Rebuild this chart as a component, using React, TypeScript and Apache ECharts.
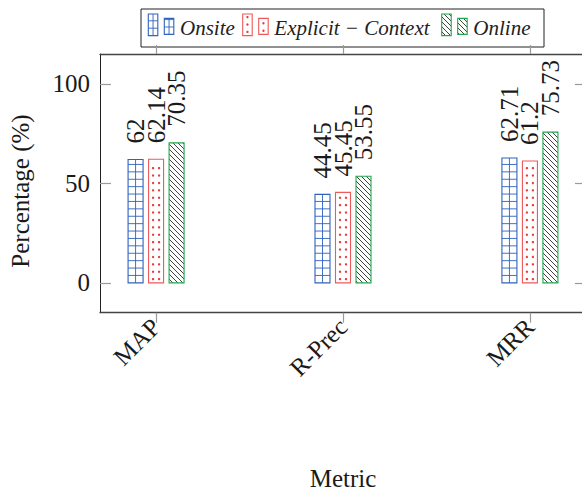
import React, { useEffect, useRef } from "react";
import * as echarts from "echarts";

// Metrics and the percentage each approach reaches on them
const categories = ["MAP", "R-Prec", "MRR"];
const onsite = [62, 44.45, 62.71];
const explicitContext = [62.14, 45.45, 61.2];
const online = [70.35, 53.55, 75.73];
const seriesNames = ["Onsite", "Explicit − Context", "Online"];
const seriesValues = [onsite, explicitContext, online];
const yTicks = [0, 50, 100];
const xTicks = [0, 1, 2];

const SERIF = "Liberation Serif, Times New Roman, serif";

const BLUE = "#2f62bd";
const RED = "#ec3b3b";
const RED_EDGE = "#ee5a5a";
const GREEN = "#1fa84c";

const BAR_W = 15;
const BAR_PITCH = 20.5;

// Fill pattern + outline for one bar-shaped box (top y0, bottom y1)
function patternShapes(kind: number, x0: number, y0: number, w: number, y1: number): any[] {
  const out: any[] = [];
  const x1 = x0 + w;
  if (kind === 0) {
    out.push({
      type: "line",
      shape: { x1: x0 + w / 2, y1: y0, x2: x0 + w / 2, y2: y1 },
      style: { stroke: BLUE, lineWidth: 0.9 },
    });
    for (let y = y1 - 7.4; y > y0 + 0.8; y -= 7.4) {
      out.push({
        type: "line",
        shape: { x1: x0, y1: y, x2: x1, y2: y },
        style: { stroke: BLUE, lineWidth: 0.9 },
      });
    }
  } else if (kind === 1) {
    const ncols = Math.max(1, Math.floor(w / 6));
    const cx = x0 + w / 2;
    for (let y = y1 - 3.7; y > y0 + 2; y -= 7.4) {
      for (let c = 0; c < ncols; c++) {
        const px = cx + (c - (ncols - 1) / 2) * 6;
        out.push({
          type: "circle",
          shape: { cx: px, cy: y, r: 1.2 },
          style: { fill: RED },
        });
      }
    }
  } else {
    const step = 5;
    const kStart = Math.ceil((y0 - x1) / step);
    const kEnd = Math.floor((y1 - x0) / step);
    for (let k = kStart; k <= kEnd; k++) {
      const c = k * step;
      const xa = Math.max(x0, y0 - c);
      const xb = Math.min(x1, y1 - c);
      if (xb - xa > 0.3) {
        out.push({
          type: "line",
          shape: { x1: xa, y1: xa + c, x2: xb, y2: xb + c },
          style: { stroke: "#111", lineWidth: 0.8 },
        });
      }
    }
  }
  const edge = kind === 0 ? BLUE : kind === 1 ? RED_EDGE : GREEN;
  out.push({
    type: "rect",
    shape: { x: x0, y: y0, width: w, height: y1 - y0 },
    style: { fill: "none", stroke: edge, lineWidth: 1.1 },
  });
  return out;
}

function makeSeries(values: number[], idx: number): any {
  return {
    type: "custom",
    name: seriesNames[idx],
    xAxisIndex: 0,
    yAxisIndex: 0,
    data: values.map((v, i) => [i, v]),
    renderItem: (params: any, api: any) => {
      const xi = api.value(0);
      const v = api.value(1);
      const topPt = api.coord([xi, v]);
      const basePt = api.coord([xi, 0]);
      const cx = topPt[0] + (idx - 1) * BAR_PITCH;
      const x0 = cx - BAR_W / 2;
      return { type: "group", children: patternShapes(idx, x0, topPt[1], BAR_W, basePt[1]) };
    },
  };
}

function legendGraphic(): any[] {
  const els: any[] = [
    {
      type: "rect",
      shape: { x: 141, y: 9, width: 403, height: 38 },
      style: { fill: "#fff", stroke: "#222", lineWidth: 1 },
    },
  ];
  const iconX = [148.3, 242.7, 441.7];
  const textX = [180, 274.3, 473.3];
  for (let i = 0; i < 3; i++) {
    patternShapes(i, iconX[i], 14, 9.5, 35.6).forEach((e) => els.push(e));
    patternShapes(i, iconX[i] + 16, 18.4, 9.5, 34.4).forEach((e) => els.push(e));
    els.push({
      type: "text",
      x: textX[i],
      y: 28,
      style: {
        text: seriesNames[i],
        fontSize: 21,
        fontStyle: "italic",
        fontFamily: SERIF,
        fill: "#222",
        align: "left",
        verticalAlign: "middle",
      },
    });
  }
  return els;
}

export default function App() {
  const ref = useRef<HTMLDivElement>(null);

  useEffect(() => {
    if (!ref.current) return;
    const chart = echarts.init(ref.current, null, { renderer: "svg" });

    const xAxisBase = {
      type: "value",
      min: -0.3,
      max: 2.3,
      splitLine: { show: false },
      axisLine: { show: true, onZero: false, lineStyle: { color: "#444", width: 1.3 } },
    };
    const yAxisBase = {
      type: "value",
      min: -15,
      max: 115,
      splitLine: { show: false },
      axisLine: { show: true, onZero: false, lineStyle: { color: "#222", width: 1 } },
      axisTick: {
        show: true,
        customValues: yTicks,
        inside: true,
        length: 11,
        lineStyle: { color: "#9a9a9a", width: 1.2 },
      },
    };

    const staticGraphic = [
      ...legendGraphic(),
      {
        type: "text",
        x: 20,
        y: 191,
        rotation: Math.PI / 2,
        style: {
          text: "Percentage (%)",
          fontSize: 25,
          fontFamily: SERIF,
          fill: "#1a1a1a",
          align: "center",
          verticalAlign: "middle",
        },
      },
      {
        type: "text",
        x: 343,
        y: 478,
        style: {
          text: "Metric",
          fontSize: 25,
          fontFamily: SERIF,
          fill: "#1a1a1a",
          align: "center",
          verticalAlign: "middle",
        },
      },
    ];

    chart.setOption({
      animation: false,
      backgroundColor: "#fff",
      textStyle: { fontFamily: SERIF },
      grid: {
        left: 100,
        top: 54,
        width: 486,
        height: 258.7,
        containLabel: false,
        outerBoundsMode: "none",
      },
      xAxis: [
        {
          ...xAxisBase,
          position: "bottom",
          axisTick: {
            show: true,
            customValues: xTicks,
            inside: false,
            length: 10,
            lineStyle: { color: "#9a9a9a", width: 1.2 },
          },
          axisLabel: {
            customValues: xTicks,
            formatter: (v: number) => categories[Math.round(v)],
            rotate: 45,
            margin: 10,
            fontSize: 25,
            fontFamily: SERIF,
            color: "#1a1a1a",
          },
        },
        {
          ...xAxisBase,
          position: "top",
          axisTick: {
            show: true,
            customValues: xTicks,
            inside: false,
            length: 9,
            lineStyle: { color: "#9a9a9a", width: 1.2 },
          },
          axisLabel: { show: false },
        },
      ],
      yAxis: [
        {
          ...yAxisBase,
          position: "left",
          axisLabel: {
            customValues: yTicks,
            margin: 10,
            fontSize: 25,
            fontFamily: SERIF,
            color: "#1a1a1a",
          },
        },
        {
          ...yAxisBase,
          position: "right",
          axisLabel: { show: false },
        },
      ],
      series: seriesValues.map((vals, i) => makeSeries(vals, i)),
      graphic: staticGraphic,
    });

    // Rotated value labels above each bar, placed through the axis scales
    const valueLabels: any[] = [];
    seriesValues.forEach((vals, si) => {
      vals.forEach((v, ci) => {
        const pt = chart.convertToPixel({ xAxisIndex: 0, yAxisIndex: 0 }, [ci, v]) as number[];
        valueLabels.push({
          type: "text",
          x: pt[0] + (si - 1) * BAR_PITCH,
          y: pt[1] - 16,
          rotation: Math.PI / 2,
          style: {
            text: String(v),
            fontSize: 25,
            fontFamily: SERIF,
            fill: "#1a1a1a",
            align: "left",
            verticalAlign: "middle",
          },
        });
      });
    });
    chart.setOption({ graphic: [...staticGraphic, ...valueLabels] });

    return () => chart.dispose();
  }, []);

  return (
    <div
      ref={ref}
      style={{ position: "fixed", left: 0, top: 0, width: 582, height: 491 }}
    />
  );
}
